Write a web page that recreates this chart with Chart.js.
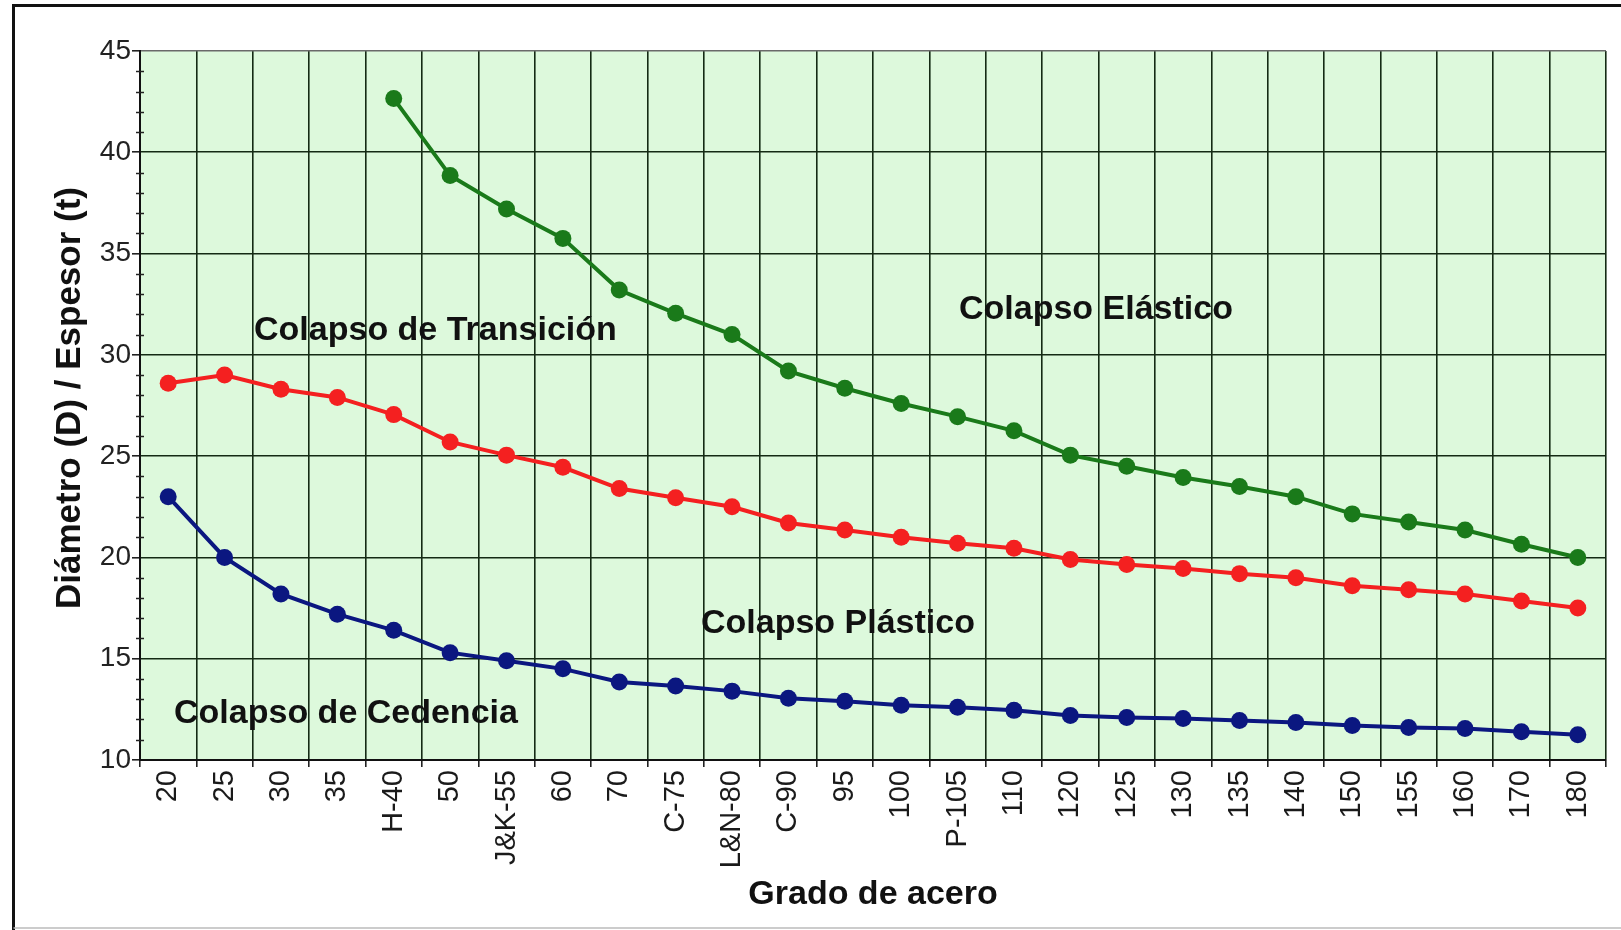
<!DOCTYPE html>
<html><head><meta charset="utf-8">
<script src="https://cdn.jsdelivr.net/npm/chart.js@4.4.1/dist/chart.umd.min.js"></script>
<style>html,body{margin:0;padding:0;background:#fff;overflow:hidden}#wrap{position:relative;width:1621px;height:930px}</style>
</head><body><div id="wrap"><canvas id="c" width="1621" height="930"></canvas></div>
<script>
const grades = ['20','25','30','35','H-40','50','J&K-55','60','70','C-75','L&N-80','C-90','95','100','P-105','110','120','125','130','135','140','150','155','160','170','180'];
const cedencia = [23.0,20.0,18.2,17.2,16.4,15.3,14.9,14.5,13.85,13.65,13.4,13.05,12.9,12.7,12.6,12.45,12.2,12.1,12.05,11.95,11.85,11.7,11.6,11.55,11.4,11.25];
const plastico = [28.6,29.0,28.3,27.9,27.05,25.7,25.05,24.45,23.4,22.95,22.5,21.7,21.35,21.0,20.7,20.45,19.9,19.65,19.45,19.2,19.0,18.6,18.4,18.2,17.85,17.5];
const elastico = [null,null,null,null,42.65,38.85,37.2,35.75,33.2,32.05,31.0,29.2,28.35,27.6,26.95,26.25,25.05,24.5,23.95,23.5,23.0,22.15,21.75,21.35,20.65,20.0];
const yMin = 10, yMax = 45, yMajorStep = 5;
const regionLabels = ['Colapso de Transición','Colapso Elástico','Colapso Plástico','Colapso de Cedencia'];
const seriesNames = ['Cedencia','Plástico','Elástico'];

const FONT = "'Liberation Sans', Arial, sans-serif";
const GRID = '#142a14';

const decor = {
  id: 'decor',
  beforeDraw(chart) {
    const {ctx, chartArea: a} = chart;
    ctx.save();
    ctx.fillStyle = '#ddf9dc';
    ctx.fillRect(a.left, a.top, a.right - a.left, a.bottom - a.top);
    ctx.restore();
  },
  afterDraw(chart) {
    const {ctx, chartArea: a} = chart;
    const y = chart.scales.y;
    ctx.save();
    ctx.strokeStyle = '#222';
    ctx.lineWidth = 1.5;
    for (let v = yMin; v <= yMax; v++) {
      if (v % yMajorStep === 0) continue;
      const py = Math.round(y.getPixelForValue(v)) + 0.5;
      ctx.beginPath();
      ctx.moveTo(a.left - 4, py);
      ctx.lineTo(a.left + 4, py);
      ctx.stroke();
    }
    // y axis title (drawn here to match its vertical placement)
    ctx.fillStyle = '#111';
    ctx.font = "bold 35px " + FONT;
    ctx.textAlign = 'center';
    ctx.textBaseline = 'middle';
    ctx.save();
    ctx.translate(70, 398);
    ctx.rotate(-Math.PI / 2);
    ctx.fillText('Diámetro (D) / Espesor (t)', 0, 0);
    ctx.restore();
    // region labels
    ctx.font = "bold 34px " + FONT;
    const w = a.right - a.left, h = a.bottom - a.top;
    const pos = [[0.2015, 0.3939], [0.6521, 0.3653], [0.4761, 0.8081], [0.1405, 0.9344]];
    regionLabels.forEach((t, i) => {
      ctx.fillText(t, a.left + pos[i][0] * w, a.top + pos[i][1] * h);
    });
    // outer frame
    ctx.strokeStyle = '#111';
    ctx.lineWidth = 3;
    ctx.beginPath();
    ctx.moveTo(1625, 5.5);
    ctx.lineTo(13.5, 5.5);
    ctx.lineTo(13.5, 930);
    ctx.stroke();
    ctx.strokeStyle = '#bbb';
    ctx.lineWidth = 1.5;
    ctx.beginPath();
    ctx.moveTo(13.5, 928);
    ctx.lineTo(1625, 928);
    ctx.stroke();
    ctx.restore();
  }
};

const mk = (label, data, color) => ({
  label, data, borderColor: color, backgroundColor: color,
  pointBackgroundColor: color, pointBorderColor: color,
  borderWidth: 4, pointRadius: 8.5, pointBorderWidth: 0, tension: 0, spanGaps: false
});

new Chart(document.getElementById('c'), {
  type: 'line',
  data: {
    labels: grades,
    datasets: [
      mk(seriesNames[0], cedencia, '#0b1780'),
      mk(seriesNames[1], plastico, '#f42020'),
      mk(seriesNames[2], elastico, '#1a7a1a')
    ]
  },
  options: {
    responsive: false,
    animation: false,
    devicePixelRatio: 1,
    layout: { padding: { left: 0, right: 15, top: 51, bottom: 0 } },
    plugins: { legend: { display: false }, tooltip: { enabled: false } },
    scales: {
      x: {
        type: 'category',
        offset: true,
        afterFit(s) { s.height = 170; },
        grid: {
          offset: true, lineWidth: 1.6, tickLength: 7,
          color: c => (c.index === grades.length ? '#777' : GRID),
          tickColor: '#222'
        },
        border: { color: '#111', width: 2 },
        ticks: {
          autoSkip: false, maxRotation: 90, minRotation: 90, padding: 3,
          color: '#1a1a1a', font: { family: FONT, size: 29 }
        },
        title: {
          display: true, text: 'Grado de acero', color: '#111',
          font: { family: FONT, size: 34, weight: 'bold', lineHeight: 1.2 },
          padding: { top: 0, bottom: 15 }
        }
      },
      y: {
        min: yMin, max: yMax,
        afterFit(s) { s.width = 140; },
        grid: {
          lineWidth: 1.6, tickLength: 8,
          color: c => (c.tick && c.tick.value % yMajorStep === 0) ? (c.tick.value === yMax ? '#6a6a6a' : GRID) : 'rgba(0,0,0,0)',
          tickColor: c => (c.tick && c.tick.value % yMajorStep === 0) ? '#222' : 'rgba(0,0,0,0)'
        },
        border: { color: '#111', width: 2 },
        ticks: {
          stepSize: 1, autoSkip: false, padding: 1,
          color: '#222', font: { family: FONT, size: 28 },
          callback: v => (v % yMajorStep === 0 ? String(v) : '')
        },
        title: { display: false }
      }
    }
  },
  plugins: [decor]
});
</script></body></html>
